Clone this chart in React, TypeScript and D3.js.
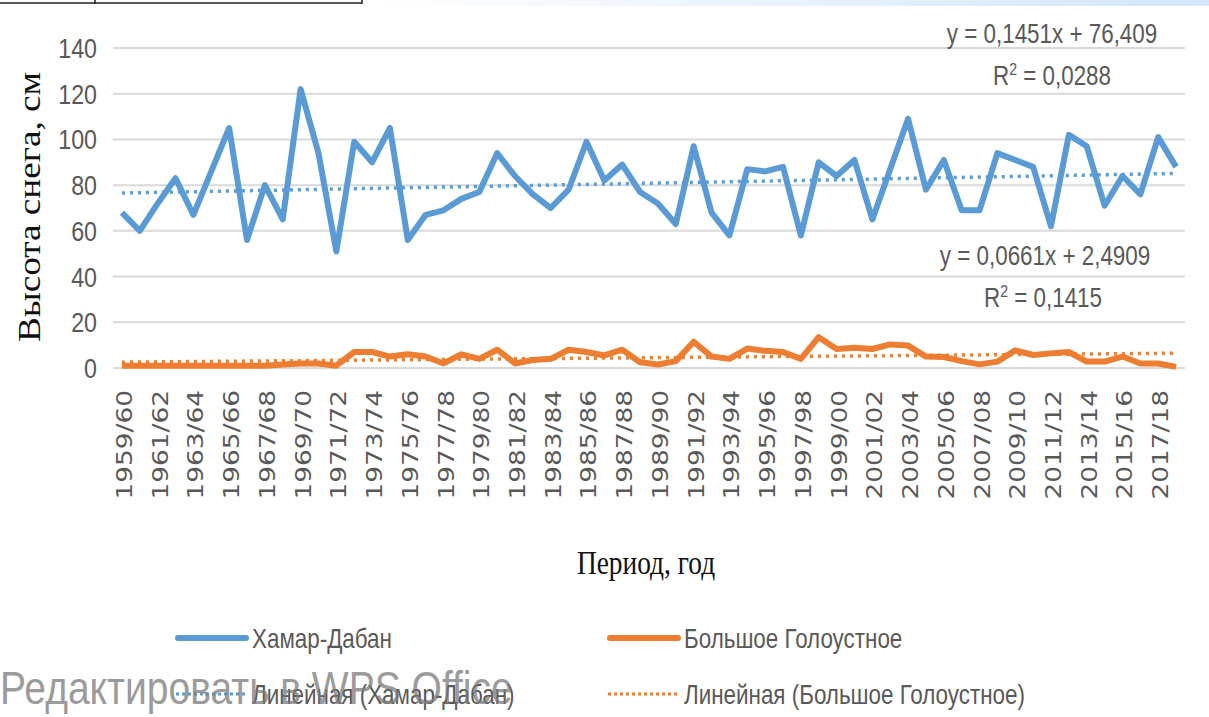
import * as d3 from 'd3';

// seasons on the category axis
const seasons = [
  '1959/60', '1960/61', '1961/62', '1962/63', '1963/64', '1964/65', '1965/66', '1966/67', '1967/68', '1968/69',
  '1969/70', '1970/71', '1971/72', '1972/73', '1973/74', '1974/75', '1975/76', '1976/77', '1977/78', '1978/79',
  '1979/80', '1980/81', '1981/82', '1982/83', '1983/84', '1984/85', '1985/86', '1986/87', '1987/88', '1988/89',
  '1989/90', '1990/91', '1991/92', '1992/93', '1993/94', '1994/95', '1995/96', '1996/97', '1997/98', '1998/99',
  '1999/00', '2000/01', '2001/02', '2002/03', '2003/04', '2004/05', '2005/06', '2006/07', '2007/08', '2008/09',
  '2009/10', '2010/11', '2011/12', '2012/13', '2013/14', '2014/15', '2015/16', '2016/17', '2017/18', '2018/19',
];

// snow depth, cm
const khamarDaban = [
  68, 60, 72, 83, 67, 86, 105, 56, 80, 65,
  122, 94, 51, 99, 90, 105, 56, 67, 69, 74,
  77, 94, 84, 76, 70, 78, 99, 82, 89, 77,
  72, 63, 97, 68, 58, 87, 86, 88, 58, 90,
  84, 91, 65, 87, 109, 78, 91, 69, 69, 94,
  91, 88, 62, 102, 97, 71, 84, 76, 101, 88,
];
const bolshoeGolous = [
  1, 1, 1, 1, 1, 1, 1, 1, 1, 1.5,
  2, 2, 1, 7, 7, 5, 6, 5, 2, 6,
  4, 8, 2, 3.5, 4, 8, 7, 5.5, 8, 2.5,
  1.5, 3, 11.5, 5, 4, 8.5, 7.5, 7, 4, 13.5,
  8.3, 8.9, 8.3, 10.3, 9.8, 5, 4.8, 3, 1.6, 2.8,
  7.7, 5.7, 6.4, 7, 2.8, 2.8, 5, 2, 2, 0.5,
];

// linear trend coefficients as printed on the chart (x = 1..60)
const trendKhamar = { slope: 0.1451, intercept: 76.409, eq: 'y = 0,1451x + 76,409', r2: '0,0288' };
const trendBolshoe = { slope: 0.0661, intercept: 2.4909, eq: 'y = 0,0661x + 2,4909', r2: '0,1415' };

const yTicks = [0, 20, 40, 60, 80, 100, 120, 140];

const BLUE = '#5B9BD5';
const ORANGE = '#ED7D31';
const GRID = '#D9D9D9';
const TXT = '#595959';
const SANS = "'Liberation Sans', Arial, sans-serif";
const SERIF = "'Liberation Serif', 'Times New Roman', serif";
const SX = 0.83; // picture is stretched vertically, horizontal text looks condensed

export default function App() {
  const width = 1209;
  const height = 717;

  const x = d3.scaleBand<string>().domain(seasons).range([113, 1185]);
  const cx = (i: number) => (x(seasons[i]) ?? 0) + x.bandwidth() / 2;
  const y = d3.scaleLinear().domain([0, 140]).range([368, 48]);

  const line = d3
    .line<number>()
    .x((_, i) => cx(i))
    .y((d) => y(d));

  const trendPath = (t: { slope: number; intercept: number }) => {
    const ends = [0, seasons.length - 1];
    return d3
      .line<number>()
      .x((i) => cx(i))
      .y((i) => y(t.slope * (i + 1) + t.intercept))(ends);
  };

  const ntext = (
    tx: number,
    ty: number,
    content: any,
    size: number,
    anchor: 'start' | 'middle' | 'end' = 'start',
    fill = TXT,
    family = SANS,
  ) => (
    <text
      transform={`translate(${tx},${ty}) scale(${SX},1)`}
      textAnchor={anchor}
      fontFamily={family}
      fontSize={size}
      fill={fill}
    >
      {content}
    </text>
  );

  return (
    <svg
      width={width}
      height={height}
      style={{ position: 'absolute', left: 0, top: 0, background: '#fff' }}
    >
      <defs>
        <linearGradient id="topband" x1="0" x2="1" y1="0" y2="0">
          <stop offset="0" stopColor="#ffffff" />
          <stop offset="1" stopColor="#d3e6fa" />
        </linearGradient>
      </defs>

      {/* leftover page bits at the top */}
      <rect x={362} y={0} width={847} height={6} fill="url(#topband)" />
      <line x1={0} x2={362} y1={3} y2={3} stroke="#222" strokeWidth={1.5} />
      <line x1={362} x2={362} y1={0} y2={4} stroke="#222" strokeWidth={1.5} />
      <line x1={95} x2={95} y1={0} y2={4} stroke="#222" strokeWidth={1.5} />

      {/* gridlines */}
      {yTicks.map((t) => (
        <line key={t} x1={113} x2={1185} y1={y(t)} y2={y(t)} stroke={GRID} strokeWidth={2} />
      ))}

      {/* y tick labels */}
      {yTicks.map((t) => (
        <g key={`yl-${t}`}>{ntext(97, y(t) + 10, t, 28, 'end')}</g>
      ))}

      {/* y title */}
      <text
        transform={`translate(40,207) rotate(-90) scale(1.2,1)`}
        textAnchor="middle"
        fontFamily={SERIF}
        fontSize={31}
        fill="#111"
      >
        Высота снега, см
      </text>

      {/* x tick labels, every second season */}
      {seasons.map((s, i) =>
        i % 2 === 0 ? (
          <text
            key={s}
            transform={`translate(${cx(i) + 10},390) rotate(-90) scale(1.2,1)`}
            textAnchor="end"
            fontFamily="'DejaVu Sans', Verdana, sans-serif"
            fontSize={22}
            fill={TXT}
          >
            {s}
          </text>
        ) : null,
      )}

      {/* x title */}
      {ntext(646, 574, 'Период, год', 33, 'middle', '#111', SERIF)}

      {/* series */}
      <path d={line(khamarDaban) ?? ''} fill="none" stroke={BLUE} strokeWidth={6} strokeLinejoin="round" />
      <path d={line(bolshoeGolous) ?? ''} fill="none" stroke={ORANGE} strokeWidth={6} strokeLinejoin="round" />

      {/* trend lines */}
      <path d={trendPath(trendKhamar) ?? ''} fill="none" stroke={BLUE} strokeWidth={3.5} strokeDasharray="3 5" />
      <path d={trendPath(trendBolshoe) ?? ''} fill="none" stroke={ORANGE} strokeWidth={3.5} strokeDasharray="3 5" />

      {/* trend equations */}
      {ntext(1052, 43, trendKhamar.eq, 27, 'middle')}
      {ntext(
        1052,
        85,
        <>
          R<tspan fontSize={17} dy={-10}>2</tspan>
          <tspan dy={10}> = {trendKhamar.r2}</tspan>
        </>,
        27,
        'middle',
      )}
      {ntext(1045, 265, trendBolshoe.eq, 27, 'middle')}
      {ntext(
        1043,
        307,
        <>
          R<tspan fontSize={17} dy={-10}>2</tspan>
          <tspan dy={10}> = {trendBolshoe.r2}</tspan>
        </>,
        27,
        'middle',
      )}

      {/* legend */}
      <line x1={178} x2={246} y1={638} y2={638} stroke={BLUE} strokeWidth={6} strokeLinecap="round" />
      {ntext(252, 648, 'Хамар-Дабан', 27)}
      <line x1={610} x2={678} y1={638} y2={638} stroke={ORANGE} strokeWidth={6} strokeLinecap="round" />
      {ntext(684, 648, 'Большое Голоустное', 27)}
      <line x1={176} x2={248} y1={694} y2={694} stroke={BLUE} strokeWidth={3} strokeDasharray="3 3" />
      {ntext(252, 704, 'Линейная (Хамар-Дабан)', 27)}
      <line x1={608} x2={680} y1={694} y2={694} stroke={ORANGE} strokeWidth={3} strokeDasharray="3 3" />
      {ntext(684, 704, 'Линейная (Большое Голоустное)', 27)}

      {/* editor watermark */}
      <g opacity={0.75}>{ntext(0, 704, 'Редактировать в WPS Office', 47, 'start', '#7a7a7a')}</g>
    </svg>
  );
}
